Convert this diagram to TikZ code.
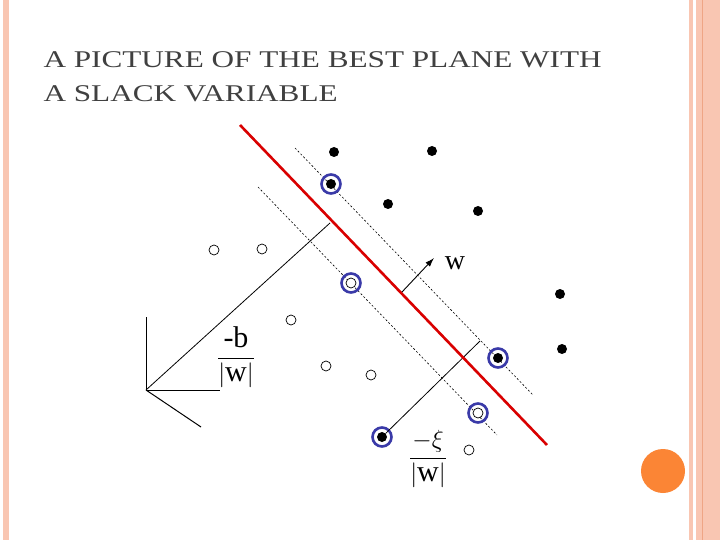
\documentclass[tikz,border=0pt]{standalone}
\usepackage{fontspec}
\setmainfont{Liberation Serif}
\usetikzlibrary{arrows.meta}
\definecolor{salmon}{HTML}{F9C6B2}
\definecolor{salmond}{HTML}{EFA585}
\definecolor{orng}{HTML}{FB8535}
\definecolor{svblue}{HTML}{3A3AA8}
\begin{document}
\begin{tikzpicture}[x=1pt,y=-1pt,
  bdot/.style={circle,fill=black,inner sep=0pt,minimum size=10pt},
  odot/.style={circle,draw=black,fill=white,inner sep=0pt,minimum size=10pt,line width=0.7pt},
  sv/.style={circle,draw=svblue,line width=2.6pt,inner sep=0pt,minimum size=19pt},
  dsh/.style={dash pattern=on 2pt off 2pt,line width=0.6pt},
  ttl/.style={anchor=base west,text=black!75,font=\fontsize{24}{28}\selectfont}]
\useasboundingbox (0,0) rectangle (720,540);
\fill[white] (0,0) rectangle (720,540);
\fill[salmon] (3,0) rectangle (9,540);
\fill[salmon] (689,0) rectangle (693,540);
\fill[salmon] (696,0) rectangle (720,540);
\draw[salmond,line width=0.8pt] (702,0) -- (702,540);
\fill[orng] (663,471) circle (22);
\node[ttl] (t1) at (40,68) {\scalebox{1.3}[1]{A PICTURE OF THE BEST PLANE WITH}};
\node[ttl] (t2) at (40,102) {\scalebox{1.3}[1]{A SLACK VARIABLE}};
% margins
\coordinate (u1) at (295,148); \coordinate (u2) at (533,395);
\coordinate (l1) at (258,187); \coordinate (l2) at (497,435);
\draw[dsh] (u1) -- (u2);
\draw[dsh] (l1) -- (l2);
\coordinate (r1) at (240,125); \coordinate (r2) at (547,445);
% axes
\coordinate (o) at (146,390);
\coordinate (ay) at (146,317); \coordinate (ax) at (220,390); \coordinate (az) at (201,427);
\draw[line width=1pt] (ay) -- (o) -- (ax); \draw[line width=1pt] (o) -- (az);
\coordinate (p) at (330,223);
\draw[line width=0.8pt] (o) -- (p);
% points
\node[bdot] (b1) at (334,152) {}; \node[bdot] (b2) at (432,151) {};
\node[bdot] (b3) at (388,204) {}; \node[bdot] (b4) at (478,211) {};
\node[bdot] (b5) at (560,294) {}; \node[bdot] (b6) at (562,349) {};
\node[bdot] (c1) at (331,184) {}; \node[sv] at (c1) {};
\node[bdot] (c2) at (498,358) {}; \node[sv] at (c2) {};
\node[bdot] (c3) at (382,437) {}; \node[sv] at (c3) {};
\node[odot] (d1) at (351,283) {}; \node[sv] at (d1) {};
\node[odot] (d2) at (478,413) {}; \node[sv] at (d2) {};
\node[odot] (o1) at (214,250) {}; \node[odot] (o2) at (262,249) {};
\node[odot] (o3) at (291,320) {}; \node[odot] (o4) at (326,366) {};
\node[odot] (o5) at (371,375) {}; \node[odot] (o6) at (469,450) {};
\coordinate (q) at (480,341);
\draw[line width=0.8pt] (c3) -- (q);
\draw[red!85!black,line width=2.6pt] (r1) -- (r2);
% w
\coordinate (w0) at (402,292); \coordinate (w1) at (434,258);
\draw[line width=0.9pt,-{Latex[length=9pt,width=6pt]}] (w0) -- (w1);
\node[font=\fontsize{28}{30}\selectfont] (wl) at (455,263) {w};
\node[font=\fontsize{30}{34}\selectfont] (bl) at (236,357) {$\displaystyle\frac{\textrm{-b}}{|\textrm{w}|}$};
\node[font=\fontsize{30}{34}\selectfont] (xl) at (428,459) {$\displaystyle\frac{-\xi}{|\textrm{w}|}$};
\end{tikzpicture}
\end{document}
